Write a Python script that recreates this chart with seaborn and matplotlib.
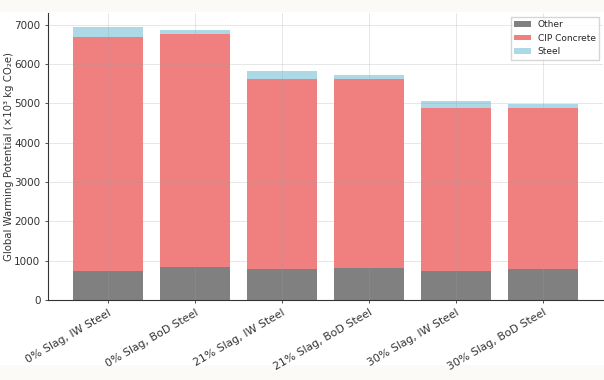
import numpy as np
import pandas as pd
import matplotlib
matplotlib.use("Agg")
import matplotlib.pyplot as plt
import seaborn as sns
from matplotlib.patches import Rectangle

sns.set_theme(style="white")
plt.rcParams['font.family'] = ['DejaVu Sans']

scenarios = ['0% Slag, IW Steel', '0% Slag, BoD Steel', '21% Slag, IW Steel',
             '21% Slag, BoD Steel', '30% Slag, IW Steel', '30% Slag, BoD Steel']
other = [740, 850, 780, 815, 740, 795]
cip_concrete = [5955, 5910, 4845, 4810, 4155, 4100]
steel = [235, 110, 205, 100, 160, 100]

df = pd.DataFrame({'Scenario': scenarios, 'Other': other,
                   'CIP Concrete': cip_concrete, 'Steel': steel})
# stacked bars: draw the cumulative totals from the top down
df['lvl_other'] = df['Other']
df['lvl_concrete'] = df['Other'] + df['CIP Concrete']
df['lvl_steel'] = df['lvl_concrete'] + df['Steel']

fig = plt.figure(figsize=(6.04, 3.8), dpi=100, facecolor='#fbfaf6')
fig.patches.append(Rectangle((0, 15 / 380), 1, 353 / 380, transform=fig.transFigure,
                             facecolor='white', edgecolor='none', zorder=-10))
ax = fig.add_axes([0.0795, 0.2105, 0.919, 0.7555])
ax.set_zorder(5)
ax.set_facecolor('white')

sns.barplot(data=df, x='Scenario', y='lvl_steel', color='#add8e6', saturation=1,
            width=0.8, linewidth=0, label='Steel', ax=ax)
sns.barplot(data=df, x='Scenario', y='lvl_concrete', color='#f08080', saturation=1,
            width=0.8, linewidth=0, label='CIP Concrete', ax=ax)
sns.barplot(data=df, x='Scenario', y='lvl_other', color='#808080', saturation=1,
            width=0.8, linewidth=0, label='Other', ax=ax)

ax.set_xlim(-0.69, 5.69)
ax.set_ylim(0, 7300)
ax.set_yticks([0, 1000, 2000, 3000, 4000, 5000, 6000, 7000])
ax.grid(True, color='#a0a0a0', alpha=0.25, linewidth=0.7)
ax.set_axisbelow(False)

ax.set_xlabel('')
ax.set_ylabel('Global Warming Potential (×10³ kg CO₂e)', fontsize=7.3, color='#333333')
ax.yaxis.set_label_coords(-0.061, 0.5)
ax.tick_params(axis='y', labelsize=7.5, colors='#333333', length=2, width=0.6, left=True)
ax.tick_params(axis='x', labelsize=7.8, colors='#333333', length=2, width=0.6, bottom=True)
plt.setp(ax.get_xticklabels(), rotation=30, ha='right', rotation_mode='anchor')

for s in ['top', 'right']:
    ax.spines[s].set_visible(False)
for s in ['left', 'bottom']:
    ax.spines[s].set_color('#333333')
    ax.spines[s].set_linewidth(0.8)

handles, labels = ax.get_legend_handles_labels()
order = [labels.index(l) for l in ['Other', 'CIP Concrete', 'Steel']]
ax.legend([handles[i] for i in order], [labels[i] for i in order], loc='upper right',
          fontsize=6.5, frameon=True, edgecolor='#cccccc', fancybox=False,
          handlelength=1.8, handleheight=0.6, labelspacing=0.5,
          borderaxespad=0.4)

fig.savefig('out.png', dpi=100, facecolor=fig.get_facecolor())
